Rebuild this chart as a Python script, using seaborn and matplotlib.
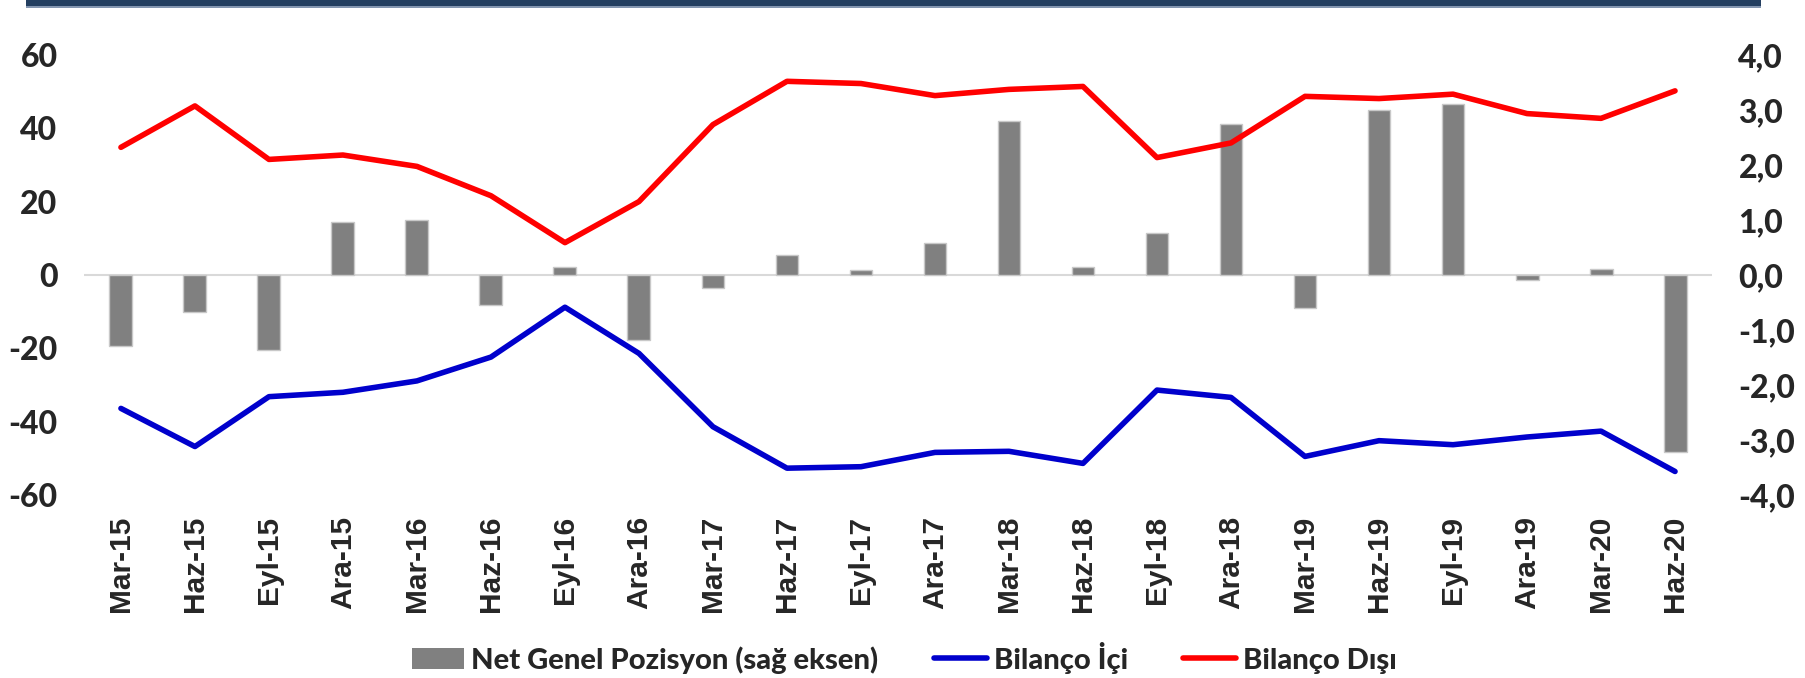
import numpy as np
import pandas as pd
import matplotlib
matplotlib.use("Agg")
import matplotlib.pyplot as plt
import seaborn as sns
from matplotlib.patches import Patch, Rectangle
from matplotlib.lines import Line2D

quarters = ["Mar-15", "Haz-15", "Eyl-15", "Ara-15", "Mar-16", "Haz-16", "Eyl-16", "Ara-16",
            "Mar-17", "Haz-17", "Eyl-17", "Ara-17", "Mar-18", "Haz-18", "Eyl-18", "Ara-18",
            "Mar-19", "Haz-19", "Eyl-19", "Ara-19", "Mar-20", "Haz-20"]
# Net Genel Pozisyon (right axis)
net_genel = [-1.30, -0.67, -1.36, 0.96, 0.99, -0.54, 0.14, -1.18,
             -0.24, 0.37, 0.09, 0.58, 2.79, 0.15, 0.77, 2.75,
             -0.61, 3.00, 3.11, -0.09, 0.11, -3.22]
# Bilanco Ici (left axis)
bilanco_ici = [-36.4, -46.8, -33.2, -32.0, -28.9, -22.4, -8.8, -21.4,
               -41.4, -52.7, -52.3, -48.4, -48.1, -51.4, -31.4, -33.4,
               -49.5, -45.2, -46.3, -44.2, -42.6, -53.6]
# Bilanco Disi (left axis)
bilanco_disi = [34.8, 46.1, 31.5, 32.7, 29.6, 21.6, 8.8, 20.0,
                41.0, 52.8, 52.2, 48.9, 50.6, 51.4, 32.0, 36.0,
                48.7, 48.1, 49.3, 44.0, 42.7, 50.2]

df = pd.DataFrame({"q": quarters, "net": net_genel, "ici": bilanco_ici, "disi": bilanco_disi})
df["i"] = np.arange(len(df))

sns.set_style("white")
plt.rcParams["font.family"] = ["Lato", "DejaVu Sans"]

fig = plt.figure(figsize=(18.05, 6.78), dpi=100)
ax = fig.add_axes([0.0465, 0.270, 0.902, 0.649])
ax2 = ax.twinx()

# bars on the right axis
sns.barplot(data=df, x="i", y="net", ax=ax2, color="#808080", width=0.31,
            edgecolor="#c8c8c8", linewidth=1, saturation=1)
ax2.axhline(0, color="#d9d9d9", lw=1.5, zorder=0)

# lines on the left axis
sns.lineplot(data=df, x="i", y="ici", ax=ax, color="#0000CC", lw=4, solid_capstyle="round")
sns.lineplot(data=df, x="i", y="disi", ax=ax, color="#FF0000", lw=4, solid_capstyle="round")
ax.set_zorder(ax2.get_zorder() + 1)
ax.patch.set_visible(False)

ax.set_xlim(-0.5, len(df) - 0.5)
ax2.set_xlim(-0.5, len(df) - 0.5)
ax.set_ylim(-60, 60)
ax2.set_ylim(-4, 4)
ax.set_yticks(np.arange(-60, 61, 20))
ax.set_yticklabels([str(v) for v in range(-60, 61, 20)], fontsize=23, fontweight="black")
ax2.set_yticks(np.arange(-4, 4.1, 1))
ax2.set_yticklabels([f"{v:.1f}".replace(".", ",") for v in np.arange(-4, 4.1, 1)],
                    fontsize=23, fontweight="black")
ax.set_xticks(df["i"])
ax.set_xticklabels(quarters, rotation=90, fontsize=21.5, fontweight="bold",
                   family=["Liberation Sans", "DejaVu Sans"])
ax.tick_params(axis="y", length=0, pad=19)
ax2.tick_params(axis="y", length=0, pad=19)
ax.tick_params(axis="x", length=0, pad=15)
ax2.tick_params(axis="x", length=0, labelbottom=False)
for a in (ax, ax2):
    a.set_xlabel("")
    a.set_ylabel("")
    for s in a.spines.values():
        s.set_visible(False)

# header band
fig.patches.append(Rectangle((0.0144, 0.991), 0.961, 0.009, transform=fig.transFigure,
                             facecolor="#243F60", edgecolor="none"))
fig.patches.append(Rectangle((0.0144, 0.988), 0.961, 0.003, transform=fig.transFigure,
                             facecolor="#8496b0", edgecolor="none"))

handles = [Patch(facecolor="#808080", edgecolor="none"),
           Line2D([], [], color="#0000CC", lw=4),
           Line2D([], [], color="#FF0000", lw=4)]
labels = ["Net Genel Pozisyon (sağ eksen)", "Bilanço İçi", "Bilanço Dışı"]
fig.legend(handles, labels, loc="center", bbox_to_anchor=(0.501, 0.03), ncol=3,
           frameon=False, prop={"size": 21, "weight": "black"}, handlelength=1.8,
           handletextpad=0.25, columnspacing=1.9)

fig.savefig("out.png", dpi=100)
